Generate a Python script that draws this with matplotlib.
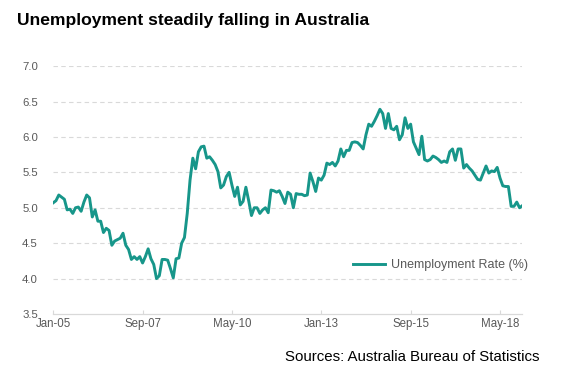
import matplotlib
matplotlib.use("Agg")
import matplotlib.pyplot as plt
import pandas as pd

rate = [
    5.07, 5.10, 5.18, 5.15, 5.12, 4.97, 4.98, 4.92, 5.00, 5.01, 4.95, 5.08,
    5.18, 5.14, 4.87, 4.97, 4.81, 4.81, 4.65, 4.71, 4.68, 4.47, 4.53, 4.55,
    4.57, 4.64, 4.47, 4.41, 4.27, 4.31, 4.27, 4.31, 4.22, 4.31, 4.42, 4.28,
    4.20, 4.00, 4.04, 4.27, 4.27, 4.26, 4.14, 4.01, 4.28, 4.29, 4.50, 4.58,
    4.92, 5.39, 5.70, 5.55, 5.79, 5.86, 5.87, 5.70, 5.72, 5.67, 5.61, 5.51,
    5.28, 5.32, 5.44, 5.50, 5.32, 5.16, 5.29, 5.04, 5.09, 5.29, 5.10, 4.89,
    5.00, 5.00, 4.92, 4.97, 5.00, 4.93, 5.25, 5.24, 5.22, 5.24, 5.16, 5.06,
    5.22, 5.19, 5.00, 5.20, 5.19, 5.19, 5.17, 5.18, 5.49, 5.37, 5.23, 5.42,
    5.39, 5.46, 5.63, 5.61, 5.64, 5.59, 5.66, 5.83, 5.72, 5.81, 5.81, 5.92,
    5.93, 5.92, 5.88, 5.83, 6.03, 6.18, 6.15, 6.22, 6.30, 6.39, 6.33, 6.12,
    6.33, 6.12, 6.10, 6.15, 5.96, 6.03, 6.27, 6.12, 6.18, 5.93, 5.84, 5.75,
    6.01, 5.68, 5.66, 5.68, 5.73, 5.71, 5.68, 5.64, 5.66, 5.64, 5.79, 5.83,
    5.67, 5.83, 5.83, 5.56, 5.61, 5.56, 5.52, 5.46, 5.40, 5.39, 5.49, 5.59,
    5.49, 5.52, 5.51, 5.57, 5.42, 5.31, 5.30, 5.30, 5.02, 5.02, 5.08, 5.00,
    5.03,
]
months = pd.date_range("2005-01-01", periods=len(rate), freq="MS")
tick_labels = ["Jan-05", "Sep-07", "May-10", "Jan-13", "Sep-15", "May-18"]
y_ticks = [3.5, 4.0, 4.5, 5.0, 5.5, 6.0, 6.5, 7.0]

plt.rcParams['font.family'] = ['Liberation Sans', 'DejaVu Sans']

fig = plt.figure(figsize=(5.69, 3.82), dpi=100)
ax = fig.add_axes([0.0935, 0.178, 0.8245, 0.649])

x = list(range(len(rate)))
ax.plot(x, rate, color="#17968A", lw=2.1, label="Unemployment Rate (%)",
        solid_joinstyle="round", zorder=3)

ax.set_xlim(0, len(rate) - 1)
ax.set_ylim(3.5, 7.0)
tick_pos = [i for i, m in enumerate(months) if m.strftime("%b-%y") in tick_labels]
ax.set_xticks(tick_pos)
ax.set_xticklabels([months[i].strftime("%b-%y") for i in tick_pos])
ax.set_yticks(y_ticks)
ax.set_yticklabels([f"{v:.1f}" for v in y_ticks])

for v in y_ticks[1:]:
    ax.axhline(v, color="#D9D9D9", lw=0.8, ls=(0, (4, 3)), zorder=1)

for s in ["top", "right", "left"]:
    ax.spines[s].set_visible(False)
ax.spines["bottom"].set_color("#D9D9D9")
ax.spines["bottom"].set_linewidth(0.9)

ax.tick_params(axis="x", colors="#595959", labelsize=8.3, length=3,
               color="#D9D9D9", direction="in", pad=3)
ax.tick_params(axis="y", colors="#595959", labelsize=8.2, length=0, pad=11)

leg = ax.legend(loc="center right", bbox_to_anchor=(0.928, 0.306),
                bbox_transform=fig.transFigure, frameon=False,
                fontsize=9, handlelength=2.6, handletextpad=0.45,
                borderpad=0, borderaxespad=0)
for t in leg.get_texts():
    t.set_color("#595959")

fig.text(0.03, 0.947, "Unemployment steadily falling in Australia",
         fontsize=12.6, fontweight="bold", color="#000000", va="center", ha="left")
fig.text(0.949, 0.065, "Sources: Australia Bureau of Statistics",
         fontsize=10.8, color="#000000", va="center", ha="right")

fig.savefig("out.png", dpi=100, facecolor="white")
